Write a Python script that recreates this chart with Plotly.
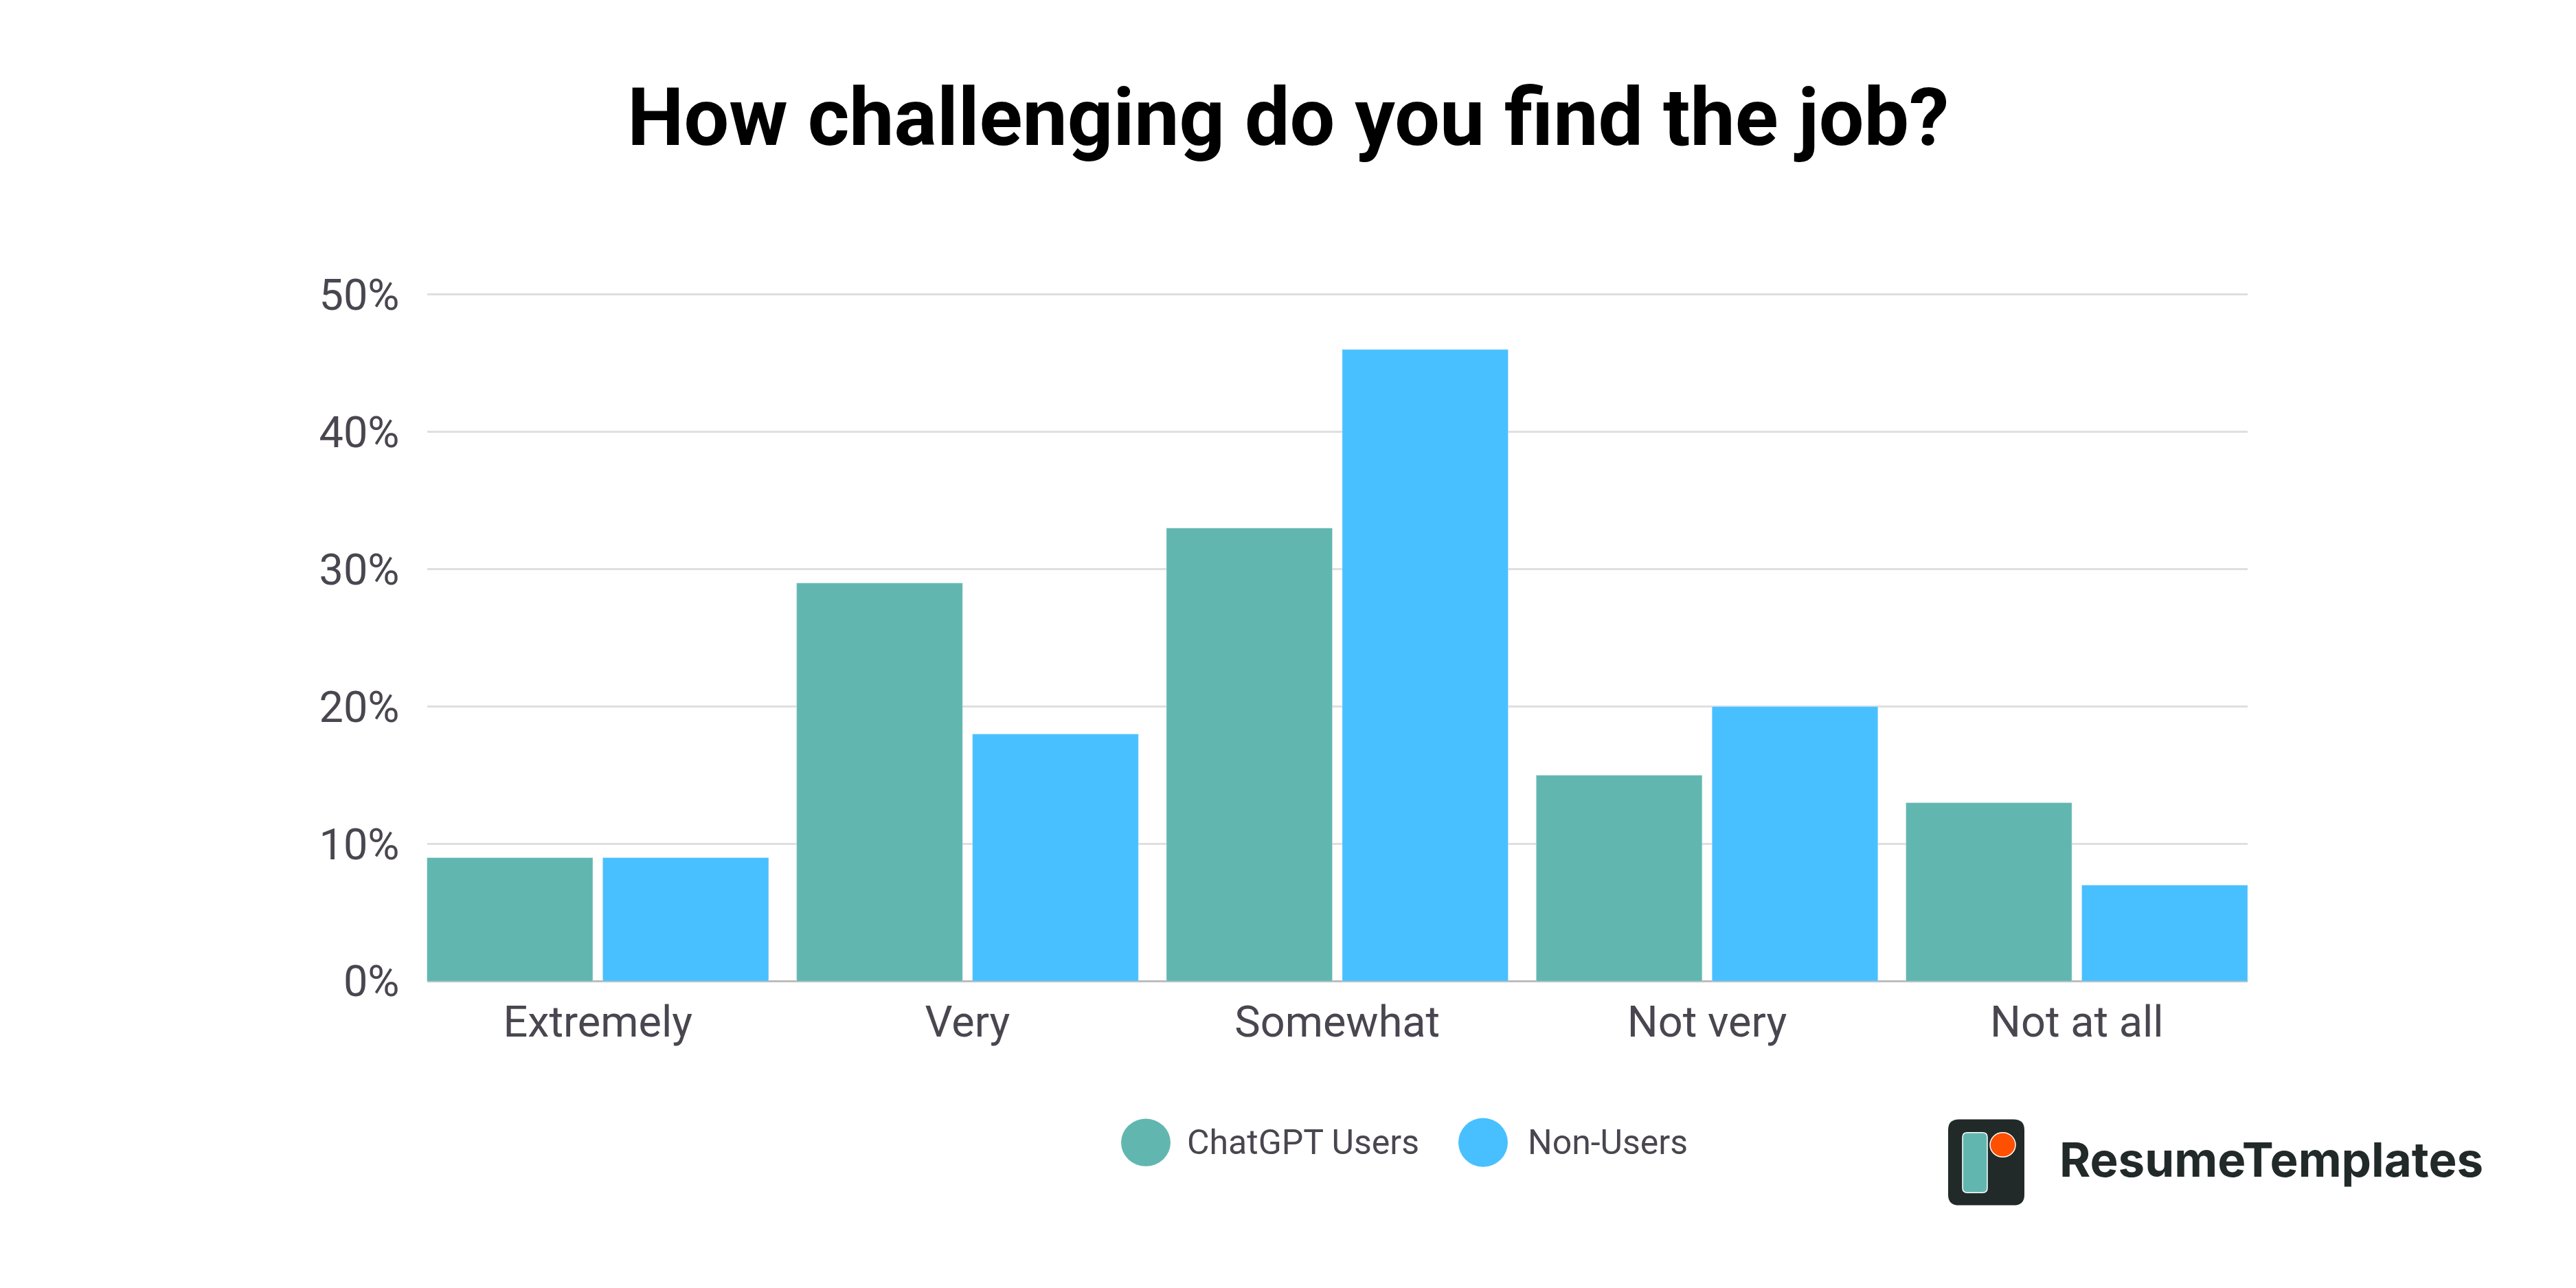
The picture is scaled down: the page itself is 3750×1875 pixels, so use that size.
import plotly.graph_objects as go

W, H = 3750, 1875

categories = ["Extremely", "Very", "Somewhat", "Not very", "Not at all"]
chatgpt_users = [9, 29, 33, 15, 13]
non_users = [9, 18, 46, 20, 7]
y_ticks = [0, 10, 20, 30, 40, 50]
y_tick_labels = ["0%", "10%", "20%", "30%", "40%", "50%"]

TEAL = "#61B7B0"
BLUE = "#48C0FF"
TEXT = "#4A4650"
DARK = "#212A29"
ORANGE = "#FF4F00"


def px_x(x):
    return x / W


def px_y(y):
    return 1 - y / H


def circle(x0, y0, x1, y1, color, line=None):
    return dict(type="circle", xref="paper", yref="paper",
                x0=px_x(x0), x1=px_x(x1), y0=px_y(y1), y1=px_y(y0),
                fillcolor=color, line=line or dict(width=0))


def rounded_box(x0, y0, x1, y1, r, color, line=None):
    # rounded rectangle in paper coordinates, pixel input
    a, b = px_x(x0), px_x(x1)
    c, d = px_y(y0), px_y(y1)
    rx, ry = r / W, r / H
    path = (f"M{a + rx},{c} L{b - rx},{c} Q{b},{c} {b},{c - ry} "
            f"L{b},{d + ry} Q{b},{d} {b - rx},{d} "
            f"L{a + rx},{d} Q{a},{d} {a},{d + ry} "
            f"L{a},{c - ry} Q{a},{c} {a + rx},{c} Z")
    return dict(type="path", xref="paper", yref="paper", path=path,
                fillcolor=color, line=line or dict(width=0))


def label(text, x, y, size, color, family="Roboto", weight=None):
    return dict(text=text, xref="paper", yref="paper", x=px_x(x), y=px_y(y),
                xanchor="left", yanchor="middle", showarrow=False,
                font=dict(family=family, size=size, color=color, weight=weight))


fig = go.Figure()
fig.add_trace(go.Bar(x=categories, y=chatgpt_users, name="ChatGPT Users", marker_color=TEAL))
fig.add_trace(go.Bar(x=categories, y=non_users, name="Non-Users", marker_color=BLUE))

fig.update_layout(
    width=W, height=H,
    margin=dict(l=0, r=0, t=0, b=0),
    paper_bgcolor="white", plot_bgcolor="white",
    showlegend=False,
    barmode="group", bargap=0.049, bargroupgap=0.056,
    font=dict(family="Roboto", color=TEXT),
    title=dict(text="<b>How challenging do you find the job?</b>",
               x=0.4979, xanchor="center", y=1 - 162 / H, yanchor="middle",
               font=dict(family="Roboto", size=116.5, color="black")),
    shapes=[
        circle(1624, 1649, 1696, 1721, TEAL),
        circle(2115, 1648, 2187, 1722, BLUE),
        rounded_box(2828, 1650, 2939, 1780, 16, DARK),
        rounded_box(2849, 1670, 2885, 1761, 7, TEAL, dict(color="white", width=1.5)),
        circle(2889, 1670, 2926, 1707, ORANGE, dict(color="white", width=1.5)),
    ],
    annotations=[
        label("ChatGPT Users", 1718, 1685, 50, TEXT),
        label("Non-Users", 2214, 1685, 50, TEXT),
        label("ResumeTemplates", 2988, 1711, 69, DARK, "Inter", 700),
    ],
)

fig.update_xaxes(
    domain=[px_x(613.5), px_x(3264)],
    range=[-0.462, 4.462],
    showgrid=False, showline=False, ticks="",
    tickfont=dict(size=63, color=TEXT),
    ticklabelstandoff=17,
)
fig.update_yaxes(
    domain=[px_y(1441), px_y(400)],
    range=[0, 50.1],
    tickvals=y_ticks, ticktext=y_tick_labels,
    gridcolor="#DFDFDF", gridwidth=2.5,
    zeroline=True, zerolinecolor="#BDBDBD", zerolinewidth=3,
    showline=False, ticks="",
    tickfont=dict(size=63, color=TEXT),
    ticklabelstandoff=39,
)

fig.write_html("out.html")
